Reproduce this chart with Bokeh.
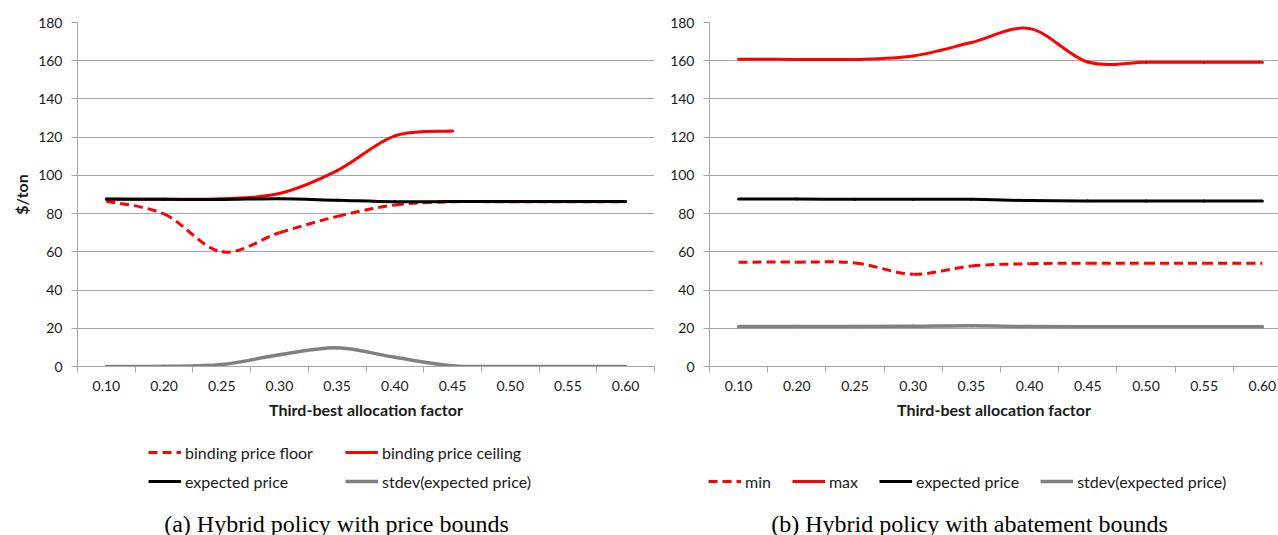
import numpy as np
from bokeh.plotting import figure
from bokeh.layouts import row, column
from bokeh.models import ColumnDataSource, Range1d, FixedTicker, Legend, LegendItem, Label
from bokeh.embed import file_html
from bokeh.resources import INLINE

# Third-best allocation factor (category axis)
factors = ["0.10", "0.20", "0.25", "0.30", "0.35", "0.40", "0.45", "0.50", "0.55", "0.60"]

# (a) Hybrid policy with price bounds, $/ton
a_floor = [86.5, 79.8, 60.0, 70.0, 78.5, 84.5, 86.2, 86.2, 86.2, 86.2]
a_ceiling = [87.5, 87.5, 87.8, 90.5, 102.5, 120.7, 123.2]
a_expected = [87.6, 87.5, 87.4, 87.8, 87.0, 86.2, 86.3, 86.3, 86.3, 86.3]
a_stdev = [0.0, 0.1, 1.0, 6.1, 9.8, 4.8, 0.4, 0.0, 0.0, 0.0]

# (b) Hybrid policy with abatement bounds, $/ton
b_min = [54.6, 54.6, 54.2, 48.3, 52.6, 53.8, 54.0, 54.0, 54.0, 54.0]
b_max = [160.8, 160.7, 160.7, 162.5, 169.5, 176.8, 159.3, 159.2, 159.2, 159.2]
b_expected = [87.6, 87.6, 87.5, 87.5, 87.5, 86.8, 86.6, 86.6, 86.6, 86.6]
b_stdev = [20.9, 20.9, 20.9, 21.0, 21.3, 20.9, 20.8, 20.8, 20.8, 20.8]

RED = "#ff0000"
BLACK = "#000000"
GREY = "#808080"
AXIS_GREY = "#a6a6a6"
TEXT = "#1a1a1a"
FONT = "Lato"
DASH = "9 5"

CHART_H = 426   # chart row height
KEY_H = 109     # legend + caption strip height


def smooth(values):
    """Cubic Bezier pieces through the points (spreadsheet-style smoothed line)."""
    y = np.asarray(values, dtype=float)
    x = np.arange(len(y), dtype=float)
    xp = np.concatenate([[x[0]], x, [x[-1]]])
    yp = np.concatenate([[y[0]], y, [y[-1]]])
    i = np.arange(len(y) - 1)
    return dict(
        x0=x[i], y0=y[i], x1=x[i + 1], y1=y[i + 1],
        cx0=x[i] + (xp[i + 2] - xp[i]) / 6.0,
        cy0=y[i] + (yp[i + 2] - yp[i]) / 6.0,
        cx1=x[i + 1] - (xp[i + 3] - xp[i + 1]) / 6.0,
        cy1=y[i + 1] - (yp[i + 3] - yp[i + 1]) / 6.0,
    )


def curve(p, values, color, width, dash="solid"):
    src = ColumnDataSource(smooth(values))
    return p.bezier(x0="x0", y0="y0", x1="x1", y1="y1", cx0="cx0", cy0="cy0",
                    cx1="cx1", cy1="cy1", source=src, line_color=color,
                    line_width=width, line_dash=dash,
                    line_cap="butt" if dash != "solid" else "round")


def chart(frame_width, border_left, border_right, x_end):
    p = figure(frame_width=frame_width, frame_height=344,
               x_range=Range1d(-0.5, x_end), y_range=Range1d(0, 180),
               output_backend="svg", toolbar_location=None,
               min_border_left=border_left, min_border_right=border_right,
               min_border_top=22, min_border_bottom=CHART_H - 22 - 344)
    p.outline_line_color = None
    p.background_fill_color = "white"
    p.border_fill_color = "white"
    p.xgrid.visible = False
    p.ygrid.grid_line_color = AXIS_GREY
    p.ygrid.grid_line_width = 1

    yax = p.yaxis[0]
    yax.ticker = FixedTicker(ticks=list(range(0, 181, 20)))
    yax.axis_line_color = AXIS_GREY
    yax.major_tick_line_color = AXIS_GREY
    yax.major_tick_out = 6
    yax.major_tick_in = 0
    yax.minor_tick_line_color = None
    yax.major_label_standoff = 9
    yax.major_label_text_font = FONT
    yax.major_label_text_font_size = "14px"
    yax.major_label_text_color = TEXT

    xax = p.xaxis[0]
    xax.ticker = FixedTicker(ticks=list(range(len(factors))),
                             minor_ticks=[k - 0.5 for k in range(len(factors) + 1)])
    xax.major_label_overrides = {i: f for i, f in enumerate(factors)}
    xax.axis_line_color = AXIS_GREY
    xax.major_tick_line_color = None
    xax.major_tick_out = 6
    xax.major_tick_in = 0
    xax.minor_tick_line_color = AXIS_GREY
    xax.minor_tick_out = 6
    xax.minor_tick_in = 0
    xax.major_label_standoff = 8
    xax.major_label_text_font = FONT
    xax.major_label_text_font_size = "14px"
    xax.major_label_text_color = TEXT
    xax.axis_label = "Third-best allocation factor"
    xax.axis_label_standoff = 6
    xax.axis_label_text_font = FONT
    xax.axis_label_text_font_size = "16px"
    xax.axis_label_text_font_style = "bold"
    xax.axis_label_text_color = TEXT
    return p


def key_strip(width, entries, legend_x, caption_text, caption_x, **legend_kw):
    """Strip under a chart holding its legend and its caption."""
    k = figure(width=width, height=KEY_H, x_range=Range1d(0, width), y_range=Range1d(0, KEY_H),
               output_backend="svg", toolbar_location=None,
               x_axis_type=None, y_axis_type=None,
               min_border_left=0, min_border_right=0, min_border_top=0, min_border_bottom=0)
    k.outline_line_color = None
    k.background_fill_color = "white"
    k.border_fill_color = "white"
    k.grid.visible = False
    items = []
    for label, color, width_px, dash in entries:
        # legend-only proxy: carries the series style, draws nothing itself
        proxy = k.line(x=[np.nan], y=[np.nan], line_color=color, line_width=width_px,
                       line_dash=dash)
        items.append(LegendItem(label=label, renderers=[proxy]))
    k.add_layout(Legend(items=items, orientation="horizontal", location=(legend_x, 44),
                        padding=0, margin=0, glyph_width=33, glyph_height=20,
                        label_height=20, label_standoff=4, label_text_font=FONT,
                        label_text_font_size="16px", label_text_color=TEXT,
                        border_line_color=None, background_fill_alpha=0, **legend_kw))
    k.add_layout(Label(x=caption_x, y=12, text=caption_text, text_align="center",
                       text_baseline="middle", text_font="Liberation Serif",
                       text_font_size="24px", text_color="black"))
    return k


# ---- (a) price bounds ----
pa = chart(577, 77, 6, 9.5)
pa.yaxis[0].axis_label = "$/ton"
pa.yaxis[0].axis_label_standoff = 4
pa.yaxis[0].axis_label_text_font = FONT
pa.yaxis[0].axis_label_text_font_size = "16px"
pa.yaxis[0].axis_label_text_font_style = "bold"
pa.yaxis[0].axis_label_text_color = TEXT

curve(pa, a_floor, RED, 3, DASH)
curve(pa, a_ceiling, RED, 3)
curve(pa, a_expected, BLACK, 3)
curve(pa, a_stdev, GREY, 3.5)

ka = key_strip(660,
               [("binding price floor", RED, 3, DASH), ("binding price ceiling", RED, 3, "solid"),
                ("expected price", BLACK, 3, "solid"), ("stdev(expected price)", GREY, 3.5, "solid")],
               148, "(a) Hybrid policy with price bounds", 336,
               ncols=2, spacing=9, label_width=151)

# ---- (b) abatement bounds ----
pb = chart(569, 49, 0, -0.5 + 569 / 58.2)

curve(pb, b_min, RED, 3, DASH)
curve(pb, b_max, RED, 3)
curve(pb, b_expected, BLACK, 3)
curve(pb, b_stdev, GREY, 3.5)

kb = key_strip(618,
               [("min", RED, 3, DASH), ("max", RED, 3, "solid"),
                ("expected price", BLACK, 3, "solid"), ("stdev(expected price)", GREY, 3.5, "solid")],
               48, "(b) Hybrid policy with abatement bounds", 309,
               spacing=21)

layout = column(row(pa, pb), row(ka, kb))
open("out.html", "w").write(file_html(layout, INLINE))
